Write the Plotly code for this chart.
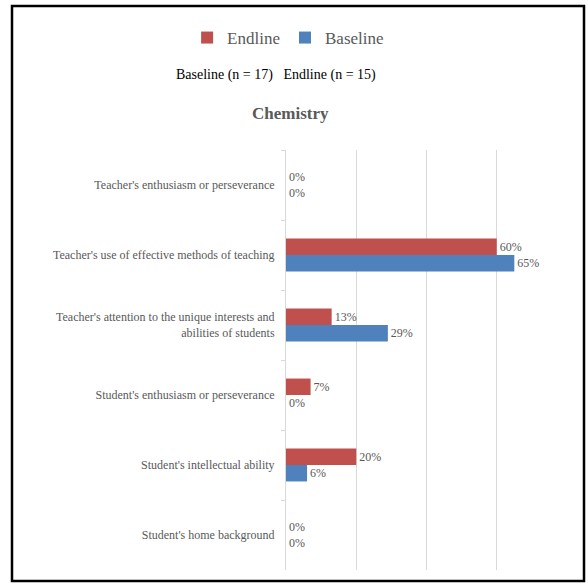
import plotly.graph_objects as go

categories = [
    "Teacher's enthusiasm or perseverance",
    "Teacher's use of effective methods of teaching",
    "Teacher's attention to the unique interests and<br>abilities of students",
    "Student's enthusiasm or perseverance",
    "Student's intellectual ability",
    "Student's home background",
]
endline = [0, 60, 13, 7, 20, 0]
baseline = [0, 65, 29, 0, 6, 0]
series_names = ["Endline", "Baseline"]
colors = ["#C0504D", "#4F81BD"]
x_ticks = [0, 20, 40, 60, 80]

W, H = 588, 586
L, R, T, B = 286, 567, 150, 570
FONT = "Liberation Serif, Times New Roman, serif"
GRAY = "#595959"

fig = go.Figure()
for name, vals, col in zip(series_names, [endline, baseline], colors):
    fig.add_trace(go.Bar(
        y=categories, x=vals, name=name, orientation="h",
        marker=dict(color=col, line=dict(width=0)),
        texttemplate="%{x}%", textposition="outside", cliponaxis=False,
        textfont=dict(family=FONT, size=12, color=GRAY),
    ))

def px2x(px):
    return (px - L) / (R - L)

def py2y(py):
    return (B - py) / (B - T)

fig.update_layout(
    width=W, height=H,
    margin=dict(l=L, r=W - R, t=T, b=H - B),
    paper_bgcolor="white", plot_bgcolor="white",
    barmode="group", bargap=0.53, bargroupgap=0,
    font=dict(family=FONT, color=GRAY),
    showlegend=True,
    legend=dict(orientation="h", xref="container", yref="container",
                x=0.49, xanchor="center", y=1 - 38 / H, yanchor="middle",
                font=dict(family=FONT, size=17, color=GRAY),
                itemwidth=30, tracegroupgap=0),
    xaxis=dict(range=[0, 80], tickvals=x_ticks, showticklabels=False,
               showgrid=True, gridcolor="#d9d9d9", gridwidth=1,
               zeroline=False, showline=False, fixedrange=True),
    yaxis=dict(autorange="reversed", type="category",
               showline=True, linecolor="#d9d9d9", linewidth=1,
               ticks="outside", tickson="boundaries", ticklen=4,
               tickcolor="#d9d9d9", ticklabelstandoff=8,
               tickfont=dict(family=FONT, size=12, color=GRAY),
               showgrid=False, zeroline=False),
    annotations=[
        dict(text="Baseline (n = 17)   Endline (n = 15)", xref="paper", yref="paper",
             x=px2x(276), y=py2y(75), xanchor="center", yanchor="middle",
             showarrow=False,
             font=dict(family=FONT, size=14, color="black")),
        dict(text="<b>Chemistry</b>", xref="paper", yref="paper",
             x=px2x(290), y=py2y(113), xanchor="center", yanchor="middle",
             showarrow=False,
             font=dict(family=FONT, size=17, color=GRAY)),
    ],
    shapes=[
        dict(type="rect", xref="paper", yref="paper",
             x0=px2x(12), x1=px2x(584), y0=py2y(581), y1=py2y(6),
             line=dict(color="black", width=2.5), fillcolor="rgba(0,0,0,0)"),
    ],
)

fig.write_html("out.html")
